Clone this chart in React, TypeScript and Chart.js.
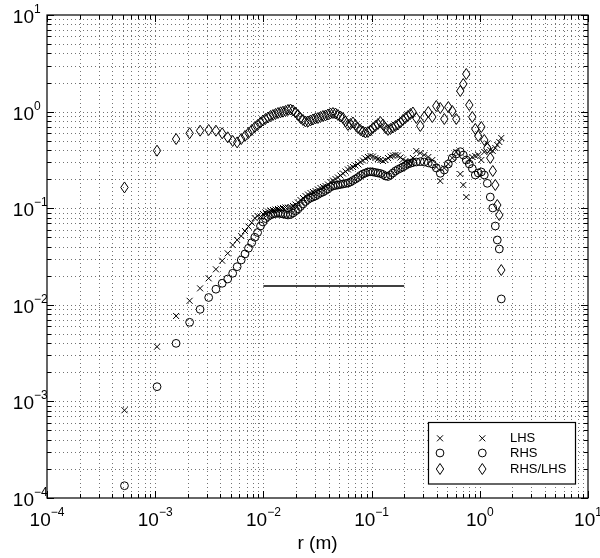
import React, { useEffect, useRef } from "react";
import { Chart, registerables } from "chart.js";

Chart.register(...registerables);

// radial distance r (m)
const R = [
  0.00052, 0.00104, 0.00156, 0.00208, 0.0026, 0.00312, 0.00364, 0.00416, 0.00468, 0.0052,
  0.00572, 0.00624, 0.00676, 0.00728, 0.0078, 0.00832, 0.00884,
  0.0094, 0.00991, 0.01045, 0.01103, 0.01163, 0.01226, 0.01293, 0.01364, 0.01439, 0.01517,
  0.016, 0.01687, 0.0178, 0.01877, 0.01979, 0.02087, 0.02201, 0.02322, 0.02449, 0.02582,
  0.02723, 0.02872, 0.03029, 0.03194, 0.03369, 0.03553, 0.03747, 0.03951, 0.04167, 0.04395,
  0.04635, 0.04888, 0.05155, 0.05436, 0.05733, 0.06046, 0.06377, 0.06725, 0.07092, 0.0748,
  0.07888, 0.08319, 0.08773, 0.09252, 0.09758, 0.10291, 0.10853, 0.11446, 0.12071, 0.1273,
  0.13425, 0.14158, 0.14931, 0.15746, 0.16606, 0.17513, 0.18469, 0.19478, 0.20541, 0.21663,
  0.22846, 0.24093,
  0.2588, 0.2818, 0.3069, 0.3342, 0.3639, 0.3963, 0.4314, 0.4698, 0.5116, 0.5568,
  0.6064, 0.6603, 0.7037, 0.7499, 0.7998, 0.8526, 0.9086, 0.9685, 1.0325, 1.1005,
  1.173, 1.25, 1.318, 1.391, 1.451, 1.514, 1.58,
];

const LHS = [
  0.00081, 0.00368, 0.00766, 0.011, 0.0148, 0.0188, 0.0233, 0.0286, 0.0341, 0.0416,
  0.0469, 0.0515, 0.058, 0.0645, 0.0708, 0.079, 0.083,
  0.0821, 0.0871, 0.0903, 0.0924, 0.0947, 0.0958, 0.0969, 0.0981, 0.0993, 0.1005,
  0.1017, 0.1017, 0.1029, 0.1054, 0.1092, 0.1146, 0.1216, 0.1275, 0.1337, 0.1386,
  0.1437, 0.1471, 0.1507, 0.1562, 0.1618, 0.1658, 0.1698, 0.1759, 0.1867, 0.1935,
  0.2006, 0.2079, 0.2181, 0.2287, 0.2399, 0.2516, 0.2607, 0.267, 0.2767, 0.2868,
  0.3007, 0.3117, 0.3269, 0.3388, 0.347, 0.3429, 0.3309, 0.3231, 0.3155, 0.308,
  0.3155, 0.3309, 0.3429, 0.3511, 0.3553, 0.3511, 0.3348, 0.3192, 0.308, 0.2972,
  0.3007, 0.3309,
  0.391, 0.3727, 0.3553, 0.3388, 0.3155, 0.267, 0.1912, 0.2607, 0.2868, 0.3309,
  0.3818, 0.226, 0.1738, 0.1305, 0.3155, 0.3388, 0.347, 0.3553, 0.3155, 0.3818,
  0.4675, 0.4004, 0.391, 0.4199, 0.451, 0.4844, 0.533,
];

const RHS = [
  0.000134, 0.00142, 0.00399, 0.00659, 0.00897, 0.0119, 0.0145, 0.0167, 0.0185, 0.0212,
  0.0248, 0.0291, 0.0336, 0.0385, 0.044, 0.05, 0.056,
  0.0654, 0.072, 0.0782, 0.0821, 0.085, 0.0871, 0.0881, 0.0886, 0.0881, 0.0871,
  0.0861, 0.085, 0.0861, 0.0892, 0.0936, 0.0981, 0.1041, 0.1105, 0.1173, 0.1231,
  0.1275, 0.1305, 0.1337, 0.1386, 0.1437, 0.1471, 0.1525, 0.158, 0.1658, 0.1698,
  0.1718, 0.1738, 0.1759, 0.178, 0.1801, 0.1823, 0.1867, 0.1935, 0.2006, 0.2079,
  0.2181, 0.226, 0.2314, 0.237, 0.2387, 0.237, 0.2342, 0.2314, 0.2287, 0.2233,
  0.2155, 0.2129, 0.2207, 0.2314, 0.2427, 0.2516, 0.2588, 0.267, 0.2767, 0.2868,
  0.2916, 0.2972,
  0.3007, 0.303, 0.3007, 0.2943, 0.2868, 0.2607, 0.2298, 0.2485, 0.2868, 0.3309,
  0.364, 0.3845, 0.3553, 0.3155, 0.2868, 0.2576, 0.2207, 0.2314, 0.237, 0.2207,
  0.181, 0.1305, 0.1005, 0.0654, 0.0469, 0.0378, 0.0115,
];

const RATIO = [
  0.164, 0.394, 0.52, 0.596, 0.634, 0.645, 0.634, 0.596, 0.542, 0.497,
  0.48, 0.52, 0.56, 0.6, 0.645, 0.69, 0.726,
  0.7711, 0.8088, 0.8383, 0.8689, 0.9005, 0.9222, 0.9444, 0.9672, 0.9835, 0.9977,
  1.0144, 1.0389, 1.0513, 1.0266, 0.9788, 0.9222, 0.8585, 0.8185, 0.7899, 0.7899,
  0.8088, 0.8283, 0.8485, 0.8585, 0.8793, 0.9005, 0.9113, 0.9333, 0.9557, 0.9672,
  0.9557, 0.9222, 0.8899, 0.8585, 0.7899, 0.7267, 0.7441, 0.7711, 0.7267, 0.6764,
  0.6449, 0.6222, 0.6075, 0.6148, 0.6372, 0.6764, 0.7095, 0.7441, 0.7804, 0.7355,
  0.6764, 0.6449, 0.6605, 0.6845, 0.7095, 0.7355, 0.7711, 0.8185, 0.8585, 0.9005,
  0.9444, 0.9788,
  0.8585, 0.7095, 0.8793, 0.9905, 0.8793, 1.1429, 1.0895, 0.8383, 1.1158, 1.0144,
  0.8383, 1.6339, 1.9312, 2.4506, 1.1703, 0.8793, 0.6605, 0.559, 0.6929, 0.5082,
  0.4199, 0.3309, 0.2427, 0.1738, 0.1079, 0.085, 0.0229,
];

// reference horizontal segment
const REF_X = [0.01, 0.2];
const REF_Y = [0.0157, 0.0157];

const DECADES = [-4, -3, -2, -1, 0, 1];
const SERIES_NAMES = ["LHS", "RHS", "RHS/LHS"];
const X_TITLE = "r (m)";

const FONT = '"Liberation Sans", Arial, Helvetica, sans-serif';

type MarkerKind = "cross" | "circle" | "diamond";
const KINDS: MarkerKind[] = ["cross", "circle", "diamond"];

function markerPath(ctx: CanvasRenderingContext2D, kind: MarkerKind, x: number, y: number) {
  if (kind === "cross") {
    ctx.moveTo(x - 3, y - 3);
    ctx.lineTo(x + 3, y + 3);
    ctx.moveTo(x + 3, y - 3);
    ctx.lineTo(x - 3, y + 3);
  } else if (kind === "circle") {
    ctx.moveTo(x + 3.9, y);
    ctx.arc(x, y, 3.9, 0, Math.PI * 2);
  } else {
    ctx.moveTo(x, y - 5.5);
    ctx.lineTo(x + 3.7, y);
    ctx.lineTo(x, y + 5.5);
    ctx.lineTo(x - 3.7, y);
    ctx.closePath();
  }
}

function expText(e: number): string {
  return e < 0 ? "\u2212" + String(-e) : String(e);
}

export default function App() {
  const ref = useRef<HTMLCanvasElement | null>(null);

  useEffect(() => {
    if (!ref.current) return;

    const decor = {
      id: "decor",
      beforeDatasetsDraw(chart: any) {
        const { ctx, chartArea: a, scales } = chart;
        const x = scales.x;
        const y = scales.y;
        ctx.save();
        ctx.strokeStyle = "rgba(0,0,0,0.55)";
        ctx.lineWidth = 1;
        ctx.setLineDash([1, 3]);
        for (const e of DECADES) {
          for (let m = 1; m <= 9; m++) {
            const v = m * Math.pow(10, e);
            if (v <= 1.0001e-4 || v >= 9.999) continue;
            const px = Math.round(x.getPixelForValue(v)) + 0.5;
            ctx.beginPath();
            ctx.moveTo(px, a.top);
            ctx.lineTo(px, a.bottom);
            ctx.stroke();
            const py = Math.round(y.getPixelForValue(v)) + 0.5;
            ctx.beginPath();
            ctx.moveTo(a.left, py);
            ctx.lineTo(a.right, py);
            ctx.stroke();
          }
        }
        ctx.restore();
      },
      afterDatasetsDraw(chart: any) {
        const { ctx, chartArea: a } = chart;
        ctx.save();
        ctx.beginPath();
        ctx.rect(a.left, a.top, a.right - a.left, a.bottom - a.top);
        ctx.clip();
        ctx.strokeStyle = "#000";
        ctx.lineWidth = 1;
        ctx.setLineDash([]);
        for (let i = 2; i >= 0; i--) {
          const meta = chart.getDatasetMeta(i);
          ctx.beginPath();
          for (const el of meta.data) {
            markerPath(ctx, KINDS[i], el.x, el.y);
          }
          ctx.stroke();
        }
        ctx.restore();
      },
      afterDraw(chart: any) {
        const { ctx, chartArea: a, scales } = chart;
        const x = scales.x;
        const y = scales.y;
        ctx.save();
        ctx.setLineDash([]);
        ctx.strokeStyle = "#000";
        ctx.lineWidth = 1;
        // ticks
        for (const e of DECADES) {
          for (let m = 1; m <= 9; m++) {
            const v = m * Math.pow(10, e);
            if (v > 10.001) continue;
            const L = m === 1 ? 7 : 4;
            const px = Math.round(x.getPixelForValue(v)) + 0.5;
            const py = Math.round(y.getPixelForValue(v)) + 0.5;
            ctx.beginPath();
            ctx.moveTo(px, a.bottom);
            ctx.lineTo(px, a.bottom - L);
            ctx.moveTo(px, a.top);
            ctx.lineTo(px, a.top + L);
            ctx.moveTo(a.left, py);
            ctx.lineTo(a.left + L, py);
            ctx.moveTo(a.right, py);
            ctx.lineTo(a.right - L, py);
            ctx.stroke();
          }
        }
        // box
        ctx.lineWidth = 1.2;
        ctx.strokeRect(a.left, a.top, a.right - a.left, a.bottom - a.top);

        // tick labels
        ctx.fillStyle = "#000";
        ctx.textBaseline = "alphabetic";
        for (const e of DECADES) {
          const v = Math.pow(10, e);
          const ex = expText(e);
          const px = x.getPixelForValue(v);
          ctx.font = `19px ${FONT}`;
          const w10 = ctx.measureText("10").width;
          ctx.font = `12px ${FONT}`;
          const we = ctx.measureText(ex).width;
          const start = px - (w10 + we) / 2;
          ctx.textAlign = "left";
          ctx.font = `19px ${FONT}`;
          ctx.fillText("10", start, a.bottom + 27.5);
          ctx.font = `12px ${FONT}`;
          ctx.fillText(ex, start + w10, a.bottom + 17.5);
          const py = y.getPixelForValue(v);
          ctx.font = `19px ${FONT}`;
          ctx.textAlign = "right";
          ctx.fillText("10", a.left - 13, py + 8);
          ctx.font = `12px ${FONT}`;
          ctx.textAlign = "left";
          ctx.fillText(ex, a.left - 13, py - 2);
        }
        // x title
        ctx.font = `19px ${FONT}`;
        ctx.textAlign = "center";
        ctx.fillText(X_TITLE, (a.left + a.right) / 2, a.bottom + 50.5);

        // legend
        const lx = 428.5;
        const ly = 422.5;
        const lw = 147;
        const lh = 61.5;
        ctx.fillStyle = "#fff";
        ctx.fillRect(lx, ly, lw, lh);
        ctx.strokeStyle = "#000";
        ctx.lineWidth = 1.2;
        ctx.strokeRect(lx, ly, lw, lh);
        const rowsY = [438.3, 453, 469];
        ctx.fillStyle = "#000";
        ctx.font = `13px ${FONT}`;
        ctx.textAlign = "left";
        ctx.textBaseline = "middle";
        ctx.lineWidth = 1;
        SERIES_NAMES.forEach((name, i) => {
          const cy = rowsY[i];
          ctx.beginPath();
          markerPath(ctx, KINDS[i], 440, cy);
          markerPath(ctx, KINDS[i], 482.3, cy);
          ctx.stroke();
          ctx.fillText(name, 510, cy + 0.5);
        });
        ctx.restore();
      },
    };

    const mk = (ys: number[]) => R.map((r, i) => ({ x: r, y: ys[i] }));
    const hidden = {
      pointRadius: 0,
      showLine: false,
      borderColor: "rgba(0,0,0,0)",
      backgroundColor: "rgba(0,0,0,0)",
    };

    const chart = new Chart(ref.current, {
      type: "scatter",
      data: {
        datasets: [
          { label: SERIES_NAMES[0], data: mk(LHS), ...hidden },
          { label: SERIES_NAMES[1], data: mk(RHS), ...hidden },
          { label: SERIES_NAMES[2], data: mk(RATIO), ...hidden },
          {
            label: "ref",
            data: REF_X.map((xv, i) => ({ x: xv, y: REF_Y[i] })),
            showLine: true,
            pointRadius: 0,
            borderColor: "#000",
            borderWidth: 1.5,
          },
        ],
      },
      options: {
        animation: false,
        responsive: false,
        devicePixelRatio: 1,
        layout: { padding: { left: 47, right: 12, top: 15, bottom: 60 } },
        plugins: {
          legend: { display: false },
          tooltip: { enabled: false },
        },
        events: [],
        scales: {
          x: { type: "logarithmic", min: 1e-4, max: 10, display: false },
          y: { type: "logarithmic", min: 1e-4, max: 10, display: false },
        },
      },
      plugins: [decor],
    });
    return () => chart.destroy();
  }, []);

  return (
    <div style={{ position: "absolute", left: 0, top: 0, width: 600, height: 558, background: "#fff" }}>
      <canvas ref={ref} width={600} height={558} style={{ display: "block", width: 600, height: 558 }} />
    </div>
  );
}
